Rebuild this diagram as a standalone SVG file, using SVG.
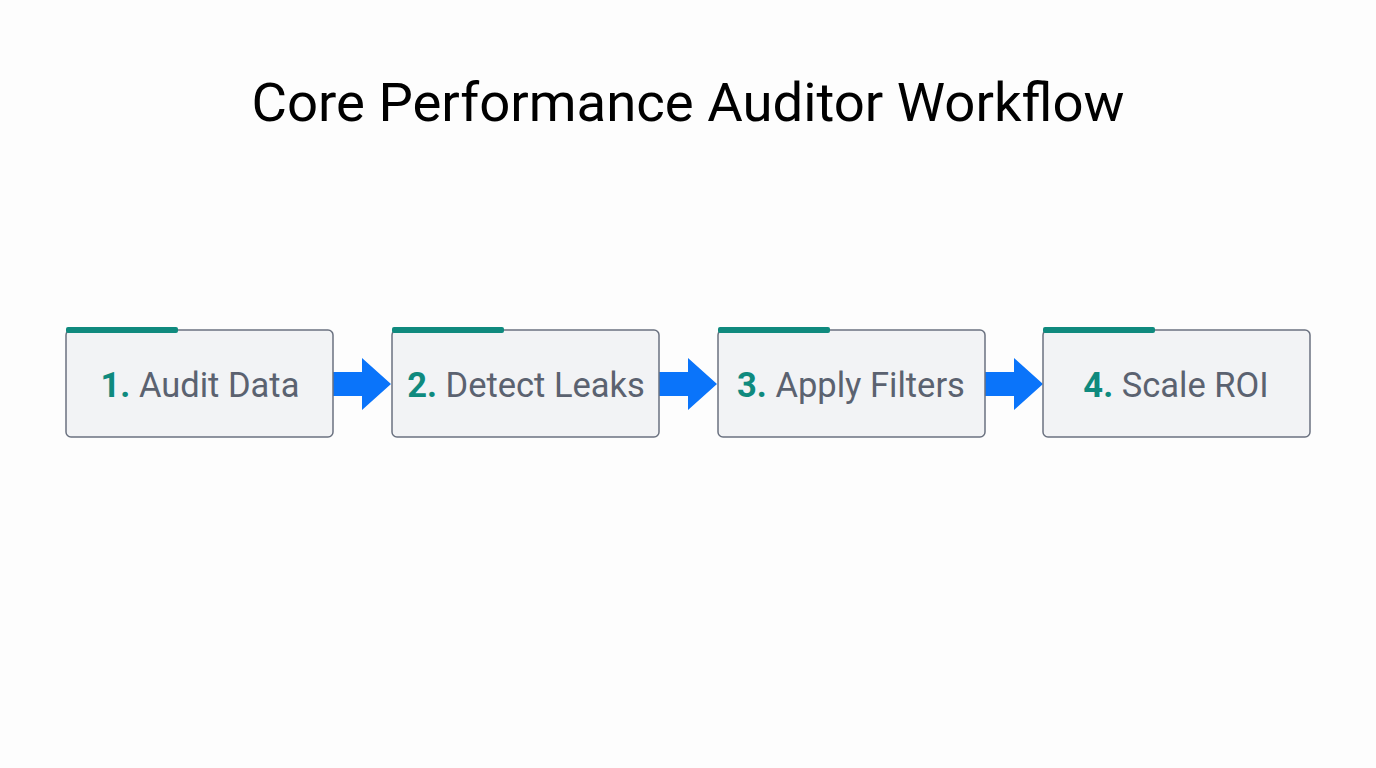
<svg xmlns="http://www.w3.org/2000/svg" width="1376" height="768" viewBox="0 0 1376 768">
<style>
.box{fill:#f2f3f5;stroke:#6b7280;stroke-width:1.5}
.bar{fill:#0f8a7e}
.lbl{font-family:Roboto,"Liberation Sans",sans-serif;font-size:34.5px;fill:#5b6270;text-anchor:middle}
.num{font-weight:bold;fill:#0f8a7e}
.title{font-family:Roboto,"Liberation Sans",sans-serif;font-size:54.5px;fill:#000;text-anchor:middle}
.arr{fill:#0a74fa}
</style>
<rect width="1376" height="768" fill="#fdfdfd"/>
<text class="title" x="688" y="121">Core Performance Auditor Workflow</text>
<g id="connectors">
<path class="arr" d="M333,372 H362 V358 L391,384 L362,410 V396 H333 Z"/>
<path class="arr" d="M659,372 H688 V358 L717,384 L688,410 V396 H659 Z"/>
<path class="arr" d="M985,372 H1014 V358 L1043,384 L1014,410 V396 H985 Z"/>
</g>
<g id="node1">
<rect class="box" x="66" y="330" width="267" height="107" rx="5"/>
<rect class="bar" x="66" y="327" width="112" height="6" rx="2"/>
<text class="lbl" x="200" y="397"><tspan class="num">1.</tspan> Audit Data</text>
</g>
<g id="node2">
<rect class="box" x="392" y="330" width="267" height="107" rx="5"/>
<rect class="bar" x="392" y="327" width="112" height="6" rx="2"/>
<text class="lbl" x="526" y="397"><tspan class="num">2.</tspan> Detect Leaks</text>
</g>
<g id="node3">
<rect class="box" x="718" y="330" width="267" height="107" rx="5"/>
<rect class="bar" x="718" y="327" width="112" height="6" rx="2"/>
<text class="lbl" x="851" y="397"><tspan class="num">3.</tspan> Apply Filters</text>
</g>
<g id="node4">
<rect class="box" x="1043" y="330" width="267" height="107" rx="5"/>
<rect class="bar" x="1043" y="327" width="112" height="6" rx="2"/>
<text class="lbl" x="1176" y="397"><tspan class="num">4.</tspan> Scale ROI</text>
</g>
</svg>
